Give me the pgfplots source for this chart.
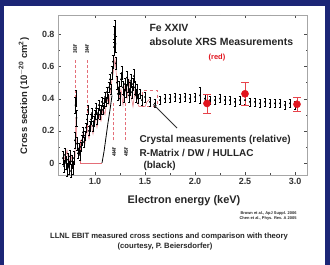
\documentclass[border=0pt]{standalone}
\usepackage{fontspec}
\setmainfont{Liberation Sans}
\usepackage{pgfplots}
\pgfplotsset{compat=1.18}
\usetikzlibrary{arrows.meta}
\definecolor{frameblue}{RGB}{28,38,118}
\definecolor{pinkth}{RGB}{228,110,120}
\definecolor{redpt}{RGB}{225,20,30}
\pgfplotstableread{
x y e
0.68 0.03 0.04
0.69 -0.02 0.04
0.70 0.05 0.04
0.71 0.00 0.04
0.72 -0.04 0.04
0.73 0.02 0.04
0.74 -0.03 0.04
0.75 0.04 0.04
0.76 -0.05 0.04
0.77 0.01 0.04
0.78 -0.03 0.04
0.79 0.03 0.04
0.80 0.14 0.05
0.805 0.36 0.05
0.81 0.40 0.05
0.815 0.28 0.05
0.82 0.12 0.04
0.83 0.06 0.03
0.84 0.09 0.03
0.85 0.05 0.03
0.86 0.10 0.03
0.87 0.14 0.03
0.88 0.19 0.03
0.89 0.13 0.03
0.90 0.17 0.03
0.91 0.22 0.03
0.92 0.27 0.03
0.93 0.33 0.03
0.94 0.20 0.03
0.95 0.23 0.03
0.96 0.27 0.03
0.97 0.31 0.03
0.98 0.23 0.03
0.99 0.26 0.03
1.00 0.30 0.03
1.01 0.34 0.03
1.02 0.27 0.03
1.03 0.31 0.03
1.04 0.36 0.03
1.05 0.30 0.03
1.06 0.33 0.03
1.07 0.38 0.03
1.08 0.33 0.03
1.09 0.37 0.03
1.10 0.41 0.03
1.11 0.38 0.03
1.12 0.44 0.03
1.13 0.40 0.03
1.14 0.47 0.03
1.15 0.52 0.03
1.16 0.46 0.03
1.17 0.56 0.04
1.18 0.63 0.04
1.19 0.72 0.05
1.195 0.80 0.05
1.20 0.84 0.05
1.205 0.74 0.05
1.21 0.62 0.04
1.22 0.50 0.04
1.23 0.43 0.04
1.24 0.47 0.04
1.25 0.40 0.04
1.26 0.52 0.04
1.27 0.56 0.04
1.28 0.47 0.04
1.29 0.42 0.04
1.30 0.49 0.04
1.31 0.45 0.04
1.32 0.53 0.04
1.33 0.48 0.04
1.34 0.42 0.04
1.35 0.46 0.04
1.36 0.51 0.04
1.37 0.44 0.04
1.38 0.49 0.04
1.39 0.54 0.04
1.40 0.47 0.04
1.41 0.42 0.04
1.42 0.45 0.04
1.43 0.40 0.03
1.45 0.43 0.03
1.47 0.39 0.03
1.50 0.41 0.03
1.55 0.38 0.03
1.60 0.37 0.025
1.65 0.39 0.025
1.70 0.40 0.025
1.75 0.40 0.025
1.80 0.41 0.025
1.85 0.40 0.025
1.90 0.41 0.025
1.95 0.40 0.025
2.00 0.41 0.025
2.05 0.42 0.05
2.10 0.40 0.025
2.15 0.39 0.025
2.20 0.39 0.025
2.25 0.40 0.025
2.30 0.39 0.025
2.35 0.39 0.025
2.40 0.38 0.025
2.45 0.39 0.025
2.50 0.39 0.025
2.55 0.38 0.025
2.60 0.38 0.025
2.65 0.37 0.025
2.70 0.38 0.025
2.75 0.37 0.025
2.80 0.37 0.025
2.85 0.37 0.025
2.90 0.36 0.025
2.95 0.37 0.025
3.00 0.36 0.025
}\crystal
\pgfplotstableread{
x y e
2.12 0.37 0.06
2.50 0.43 0.07
3.02 0.365 0.045
}\xrs
\begin{document}
\begin{tikzpicture}[x=1bp,y=1bp]
\fill[frameblue] (0,0) rectangle (330,265);
\fill[white] (4,0) rectangle (325,259);
\begin{axis}[at={(58bp,90bp)}, anchor=south west, scale only axis,
  width=249bp, height=160bp,
  xmin=0.63, xmax=3.12, ymin=-0.075, ymax=0.92,
  axis line style={gray!70, line width=0.6pt},
  tick align=inside, major tick length=3bp, minor tick length=1.5bp,
  tick style={gray!60!black},
  xtick={1,1.5,2,2.5,3}, xticklabels={1.0,1.5,2.0,2.5,3.0},
  ytick={0,0.2,0.4,0.6,0.8}, yticklabels={0,0.2,0.4,0.6,0.8},
  minor x tick num=1, minor y tick num=1,
  ticklabel style={font=\fontsize{9}{10}\selectfont\bfseries, text=black!80},
  clip=false]
% theory (pink)
\addplot[pinkth, line width=0.5pt] coordinates {(0.68,0.06) (0.70,0.02) (0.72,0.08) (0.74,0.0) (0.76,0.05) (0.78,-0.02) (0.80,0.04) (0.81,0.28) (0.82,0.12) (0.84,0.05) (0.86,0.10) (0.88,0.18) (0.90,0.12) (0.92,0.22) (0.94,0.15) (0.96,0.25) (0.98,0.18) (1.00,0.28) (1.02,0.22) (1.04,0.30) (1.06,0.26) (1.08,0.34) (1.10,0.30) (1.12,0.40) (1.14,0.36) (1.16,0.48) (1.18,0.55) (1.20,0.65) (1.22,0.50) (1.24,0.40) (1.26,0.46) (1.28,0.36) (1.30,0.48) (1.32,0.40) (1.34,0.52) (1.36,0.42) (1.38,0.35) (1.40,0.45) (1.42,0.38) (1.44,0.35) (1.50,0.35) (1.52,0.38) (1.55,0.40)};
\addplot[pinkth, line width=0.5pt] coordinates {(0.85,0.14) (0.85,0.0) (1.07,0.0)};
\addplot[pinkth, dashed, line width=0.4pt] coordinates {(1.47,0.35) (1.47,0.45) (1.62,0.45) (1.62,0.35) (1.47,0.35)};
% resonance markers
\addplot[pinkth, densely dashed, line width=0.4pt] coordinates {(0.80,0.64) (0.80,0.30)};
\addplot[pinkth, densely dashed, line width=0.4pt] coordinates {(0.92,0.64) (0.92,0.22)};
\addplot[pinkth, densely dashed, line width=0.4pt] coordinates {(1.18,0.14) (1.18,0.38)};
\addplot[pinkth, densely dashed, line width=0.4pt] coordinates {(1.30,0.14) (1.30,0.38)};
\node[rotate=90, font=\fontsize{5}{6}\selectfont\bfseries] at (axis cs:0.80,0.71) {3l3l'};
\node[rotate=90, font=\fontsize{5}{6}\selectfont\bfseries] at (axis cs:0.92,0.71) {3l4l'};
\node[rotate=90, font=\fontsize{5}{6}\selectfont\bfseries] at (axis cs:1.19,0.07) {4l4l'};
\node[rotate=90, font=\fontsize{5}{6}\selectfont\bfseries] at (axis cs:1.31,0.07) {4l5l'};
% black rising line
\addplot[black, line width=0.8pt] coordinates {(1.07,0) (1.09,0.07) (1.11,0.16) (1.13,0.25) (1.15,0.33) (1.17,0.42)};
% crystal measurements
\addplot[black, only marks, mark=*, mark size=0.7pt,
  error bars/.cd, y dir=both, y explicit,
  error bar style={black, line width=0.5pt},
  error mark options={rotate=90, mark size=1.3pt, black}]
  table[x=x, y=y, y error=e] {\crystal};
% XRS absolute (red)
\addplot[redpt, only marks, mark=*, mark size=3.6pt,
  error bars/.cd, y dir=both, y explicit,
  error bar style={redpt!80, line width=0.6pt},
  error mark options={rotate=90, mark size=4pt, redpt!80}]
  table[x=x, y=y, y error=e] {\xrs};
\end{axis}
\begin{scope}[font=\bfseries, text=black!85]
\node[anchor=west, font=\fontsize{10.5}{12}\selectfont\bfseries] at (146,237) {Fe XXIV};
\node[anchor=west, font=\fontsize{10.5}{12}\selectfont\bfseries] at (146,223) {absolute XRS Measurements};
\node[text=redpt, font=\fontsize{7.5}{8}\selectfont\bfseries] at (217,207) {(red)};
\node[anchor=west, font=\fontsize{10}{12}\selectfont\bfseries] at (136,125) {Crystal measurements (relative)};
\node[anchor=west, font=\fontsize{10}{12}\selectfont\bfseries] at (136,112) {R-Matrix / DW / HULLAC};
\node[anchor=west, font=\fontsize{10}{12}\selectfont\bfseries] at (140,99) {(black)};
\node[font=\fontsize{11}{13}\selectfont\bfseries] at (184,64) {Electron energy (keV)};
\node[rotate=90, font=\fontsize{9.5}{11}\selectfont\bfseries] at (24,169) {Cross section (10$^{\mathbf{-20}}$ cm$^{\mathbf{2}}$)};
\node[anchor=east, font=\fontsize{4}{5}\selectfont\bfseries] at (300,52) {Brown et al., ApJ Suppl. 2006};
\node[anchor=east, font=\fontsize{4}{5}\selectfont\bfseries] at (300,47) {Chen et al., Phys. Rev. A 2005};
\node[font=\fontsize{7.7}{9}\selectfont\bfseries] at (169,28) {LLNL EBIT measured cross sections and comparison with theory};
\node[font=\fontsize{7.7}{9}\selectfont\bfseries] at (165,18) {(courtesy, P. Beiersdorfer)};
\end{scope}
\draw[-{Stealth[length=4bp]}, black!80, line width=0.8pt] (177,137) -- (153,161);
\end{tikzpicture}
\end{document}
